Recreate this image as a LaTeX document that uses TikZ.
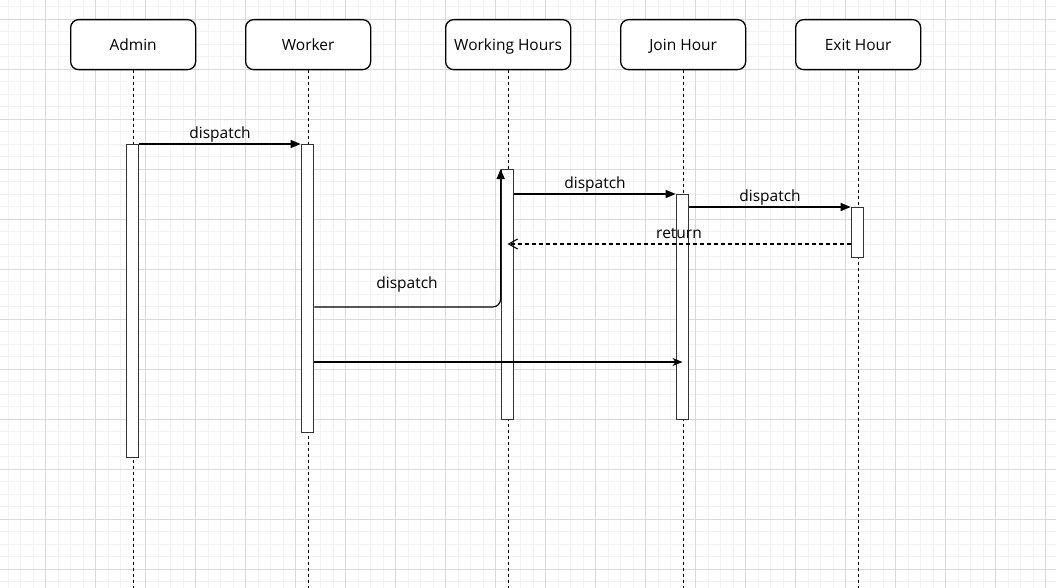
\documentclass[tikz,border=0pt]{standalone}
\usepackage{fontspec}
\setmainfont{Open Sans}
\usetikzlibrary{arrows.meta}
\definecolor{gmajor}{HTML}{DADADA}
\definecolor{gminor}{HTML}{F2F2F2}
\definecolor{actline}{HTML}{333333}
\begin{document}
\begin{tikzpicture}[x=1pt,y=-1pt,
  lbl/.style={font=\fontsize{15.5}{18}\selectfont, inner sep=0pt, text height=13pt, text depth=1.5pt},
  headbox/.style={draw, line width=1.3pt, rounded corners=8pt, fill=white,
    minimum width=125pt, minimum height=50pt, inner sep=0pt, anchor=north west,
    text height=13pt, text depth=1.5pt,
    font=\fontsize{15.5}{18}\selectfont},
  lifeline/.style={line width=1.2pt, dash pattern=on 3pt off 3pt},
  actbox/.style={draw=actline, line width=1.2pt, fill=white, minimum width=12.5pt,
    inner sep=0pt, anchor=north},
  msg/.style={line width=1.2pt, -{Triangle[length=10pt,width=8pt]}},
  retmsg/.style={line width=1.2pt, dash pattern=on 4pt off 3pt, -{Straight Barb[length=9pt,width=10pt,line width=1.1pt]}},
  plainmsg/.style={line width=1.2pt, -{Stealth[length=10pt,width=8pt,inset=3pt]}}
]
\useasboundingbox (0,0) rectangle (1056,588);
\fill[white] (0,0) rectangle (1056,588);
% grid
\foreach \i in {0,...,84} {\draw[gminor, line width=0.8pt] (8+12.5*\i,0) -- (8+12.5*\i,588);}
\foreach \j in {0,...,46} {\draw[gminor, line width=0.8pt] (0,6.8+12.5*\j) -- (1056,6.8+12.5*\j);}
\foreach \i in {0,...,20} {\draw[gmajor, line width=0.8pt] (45.5+50*\i,0) -- (45.5+50*\i,588);}
\foreach \j in {0,...,11} {\draw[gmajor, line width=0.8pt] (0,19.3+50*\j) -- (1056,19.3+50*\j);}

% lifelines
\foreach \n/\x in {la/132.5,lb/307.5,lc/507.5,ld/682.5,le/857.5} {
  \coordinate (\n) at (\x,588);
}
\node[headbox] (admin) at (70,19) {Admin};
\node[headbox] (worker) at (245,19) {Worker};
\node[headbox] (wh) at (445,19) {Working Hours};
\node[headbox] (join) at (620,19) {Join Hour};
\node[headbox] (exit) at (795,19) {Exit Hour};
\draw[lifeline] (admin.south) -- (admin.south |- la);
\draw[lifeline] (worker.south) -- (worker.south |- lb);
\draw[lifeline] (wh.south) -- (wh.south |- lc);
\draw[lifeline] (join.south) -- (join.south |- ld);
\draw[lifeline] (exit.south) -- (exit.south |- le);

% activations
\node[actbox, minimum height=313pt] (aA) at (132.5,144) {};
\node[actbox, minimum height=288pt] (aW) at (307.5,144) {};
\node[actbox, minimum height=250pt] (aH) at (507.5,169) {};
\node[actbox, minimum height=225pt] (aJ) at (682.5,194) {};
\node[actbox, minimum height=50pt] (aE) at (857.5,207) {};

% messages
\draw[msg] (aA.north east) -- (aW.north west)
  node[lbl, midway, above=3.5pt] (m1) {dispatch};
\draw[msg] (aH.east |- aJ.north) -- (aJ.north west)
  node[lbl, midway, above=3.5pt] (m2) {dispatch};
\draw[msg] (aJ.east |- aE.north) -- (aE.north west)
  node[lbl, midway, above=3.5pt] (m3) {dispatch};
\draw[retmsg] (aE.west |- 0,244) -- (aH.center |- 0,244);
\node[lbl] (m4) at (679,233) {return};
\draw[msg, rounded corners=8pt] (aW.east |- 0,307) -- (aH.west |- 0,307) -- (aH.north west);
\node[lbl] (m5) at (407,282.5) {dispatch};
\draw[plainmsg] (aW.east |- 0,362) -- (aJ.center |- 0,362);
\end{tikzpicture}
\end{document}
